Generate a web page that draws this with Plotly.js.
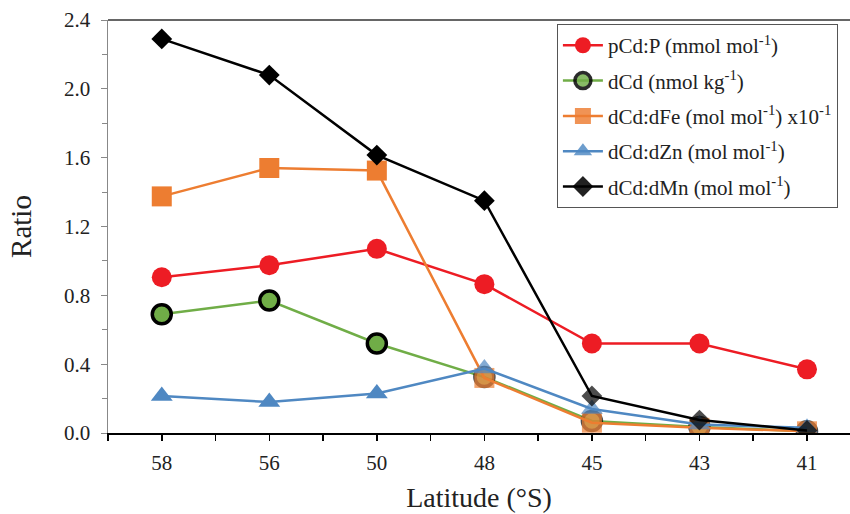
<!DOCTYPE html>
<html>
<head>
<meta charset="utf-8">
<script src="https://cdn.plot.ly/plotly-3.0.1.min.js"></script>
<style>html,body{margin:0;padding:0;background:#fff;}#chart{width:850px;height:514px;}</style>
</head>
<body>
<div id="chart"></div>
<script>
const latitudes = ["58", "56", "50", "48", "45", "43", "41"];
const pCdP   = [0.905, 0.975, 1.07, 0.865, 0.52, 0.52, 0.37];
const dCd    = [0.69, 0.77, 0.52, 0.325, 0.07, 0.035, 0.01];
const dCdFe  = [1.375, 1.54, 1.525, 0.32, 0.06, 0.03, 0.01];
const dCdZn  = [0.215, 0.18, 0.23, 0.375, 0.14, 0.05, 0.03];
const dCdMn  = [2.29, 2.08, 1.615, 1.35, 0.215, 0.075, 0.015];
const seriesNames = [
  "pCd:P (mmol mol<sup>-1</sup>)",
  "dCd (nmol kg<sup>-1</sup>)",
  "dCd:dFe (mol mol<sup>-1</sup>) x10<sup>-1</sup>",
  "dCd:dZn (mol mol<sup>-1</sup>)",
  "dCd:dMn (mol mol<sup>-1</sup>)"
];

const xs = latitudes.map((_, i) => i);
const fade = [1, 1, 1, 0.7, 0.7, 0.7, 0.7];
const fadeMn = [1, 1, 1, 1, 0.7, 0.7, 0.7];
const SERIF = "Liberation Serif, Times New Roman, serif";

const traces = [
  {x: xs, y: pCdP, name: seriesNames[0], legendgroup: "a", mode: "lines+markers",
   line: {color: "#ED1C24", width: 2.5},
   marker: {symbol: "circle", size: 20, color: "#ED1C24"}},
  {x: xs, y: dCd, name: seriesNames[1], legendgroup: "b", mode: "lines+markers",
   line: {color: "#70AD47", width: 2.5},
   marker: {symbol: "circle", size: 19, color: "#70AD47", opacity: fade, line: {color: "#000", width: 3.5}}},
  {x: xs, y: dCdFe, name: seriesNames[2], legendgroup: "c", mode: "lines+markers",
   line: {color: "#ED7D31", width: 2.5},
   marker: {symbol: "square", size: 20, color: "#ED7D31", opacity: fade}},
  {x: xs, y: dCdZn, name: seriesNames[3], legendgroup: "d", mode: "lines+markers",
   line: {color: "#4F88C2", width: 2.5},
   marker: {symbol: "triangle-up", size: 19, color: "#4F88C2", opacity: fade}},
  {x: xs, y: dCdMn, name: seriesNames[4], legendgroup: "e", mode: "lines+markers",
   line: {color: "#000000", width: 2.5},
   marker: {symbol: "diamond", size: 16, color: "#000000", opacity: fadeMn}}
];

const layout = {
  width: 850, height: 514,
  margin: {l: 108, r: 0, t: 20, b: 81},
  paper_bgcolor: "#fff", plot_bgcolor: "#fff",
  font: {family: SERIF, color: "#222", size: 20},
  showlegend: true,
  legend: {
    x: 0.605, y: 0.99, xanchor: "left", yanchor: "top",
    bordercolor: "#555", borderwidth: 1, bgcolor: "#fff",
    font: {family: SERIF, size: 21, color: "#222"}, itemwidth: 40, tracegroupgap: 5
  },
  xaxis: {
    range: [-0.5, 6.4],
    tickmode: "array", tickvals: xs, ticktext: latitudes,
    ticks: "outside", ticklen: 6, tickcolor: "#000", tickwidth: 1.5,
    minor: {tick0: 0, dtick: 0.5, ticks: "outside", ticklen: 6, tickcolor: "#000", tickwidth: 1.5},
    showline: true, linecolor: "#000", linewidth: 2,
    showgrid: false, zeroline: false,
    ticklabelstandoff: 4,
    tickfont: {family: SERIF, size: 21},
    title: {text: "Latitude (°S)", font: {family: SERIF, size: 28}, standoff: 13}
  },
  yaxis: {
    range: [0, 2.4], dtick: 0.4, tick0: 0, tickformat: ".1f",
    ticks: "outside", ticklen: 6, tickcolor: "#888", tickwidth: 1,
    minor: {dtick: 0.2, ticks: "outside", ticklen: 5, tickcolor: "#888", tickwidth: 1},
    showline: true, linecolor: "#888", linewidth: 1.5,
    showgrid: false, zeroline: false,
    ticklabelstandoff: 6,
    tickfont: {family: SERIF, size: 21},
    title: {text: "Ratio", font: {family: SERIF, size: 29}, standoff: 24}
  },
  shapes: [
    {type: "line", xref: "paper", yref: "paper", x0: 0, x1: 1, y0: 1, y1: 1,
     line: {color: "#333", width: 1.5}}
  ]
};

Plotly.newPlot("chart", traces, layout, {displayModeBar: false, staticPlot: true});
</script>
</body>
</html>
